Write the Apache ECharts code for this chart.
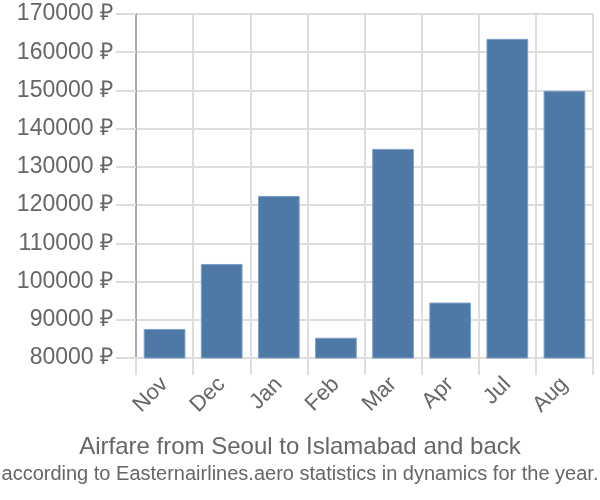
<!DOCTYPE html>
<html>
<head>
<meta charset="utf-8">
<script src="https://cdn.jsdelivr.net/npm/echarts@6/dist/echarts.min.js"></script>
<style>
  html, body { margin: 0; padding: 0; background: #fff; }
  #chart { width: 600px; height: 500px; }
</style>
</head>
<body>
<div id="chart"></div>
<script>
const months = ['Nov', 'Dec', 'Jan', 'Feb', 'Mar', 'Apr', 'Jul', 'Aug'];
const prices = [87600, 104600, 122400, 85300, 134700, 94500, 163500, 149900];
const yMin = 80000;
const yMax = 170000;
const yStep = 10000;

const chart = echarts.init(document.getElementById('chart'), null, { renderer: 'canvas' });

chart.setOption({
  animation: false,
  textStyle: { fontFamily: 'Liberation Sans, Arial, sans-serif' },
  title: {
    text: 'Airfare from Seoul to Islamabad and back',
    subtext: 'according to Easternairlines.aero statistics in dynamics for the year.',
    left: 'center',
    top: 430,
    itemGap: 5,
    textStyle: { color: '#666', fontSize: 24, fontWeight: 'normal' },
    subtextStyle: { color: '#666', fontSize: 20 }
  },
  grid: { left: 136, right: 7, top: 14, bottom: 142 },
  xAxis: {
    type: 'category',
    data: months,
    axisLine: { lineStyle: { color: '#ddd', width: 2 } },
    axisTick: { show: true, length: 17, lineStyle: { color: '#ddd', width: 2 } },
    splitLine: { show: true, lineStyle: { color: '#ddd', width: 2 } },
    axisLabel: { color: '#666', fontSize: 22, rotate: 45, margin: 23 }
  },
  yAxis: {
    type: 'value',
    min: yMin,
    max: yMax,
    interval: yStep,
    axisLine: { show: true, lineStyle: { color: '#aaa', width: 2 } },
    axisTick: { show: true, length: 20, lineStyle: { color: '#ddd', width: 2 } },
    splitLine: { lineStyle: { color: '#ddd', width: 2 } },
    axisLabel: { color: '#666', fontSize: 23, margin: 23, formatter: v => v + ' ₽' }
  },
  series: [{
    type: 'bar',
    data: prices,
    barWidth: '73%',
    itemStyle: { color: '#4e79a7', borderColor: '#7f9fc4', borderWidth: 1 }
  }]
});
</script>
</body>
</html>
